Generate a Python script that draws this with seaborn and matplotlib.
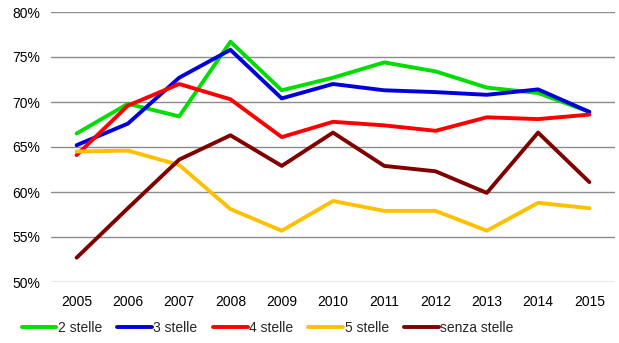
import matplotlib
matplotlib.use("Agg")
import matplotlib.pyplot as plt
import seaborn as sns
import pandas as pd
from matplotlib.ticker import FuncFormatter

years = ["2005", "2006", "2007", "2008", "2009", "2010", "2011", "2012", "2013", "2014", "2015"]
series_names = ["2 stelle", "3 stelle", "4 stelle", "5 stelle", "senza stelle"]
stelle_2 = [66.5, 69.8, 68.4, 76.7, 71.3, 72.7, 74.4, 73.4, 71.6, 71.0, 68.9]
stelle_3 = [65.2, 67.6, 72.7, 75.8, 70.4, 72.0, 71.3, 71.1, 70.8, 71.4, 68.9]
stelle_4 = [64.1, 69.6, 72.0, 70.3, 66.1, 67.8, 67.4, 66.8, 68.3, 68.1, 68.6]
stelle_5 = [64.5, 64.6, 63.0, 58.1, 55.7, 59.0, 57.9, 57.9, 55.7, 58.8, 58.2]
senza_stelle = [52.7, 58.2, 63.6, 66.3, 62.9, 66.6, 62.9, 62.3, 59.9, 66.6, 61.1]
colors = ["#00DD00", "#0000DD", "#FF0000", "#FFC000", "#800000"]

all_values = [stelle_2, stelle_3, stelle_4, stelle_5, senza_stelle]
rows = []
for name, vals in zip(series_names, all_values):
    for i, v in enumerate(vals):
        rows.append({"pos": i, "anno": years[i], "quota": v, "categoria": name})
df = pd.DataFrame(rows)

sns.set_theme(style="white")
plt.rcParams["font.family"] = ["Liberation Sans", "DejaVu Sans"]

fig = plt.figure(figsize=(6.19, 3.43), dpi=100)
ax = fig.add_axes([51 / 619, 1 - 282 / 343, (615 - 51) / 619, (282 - 12) / 343])

sns.lineplot(data=df, x="pos", y="quota", hue="categoria", hue_order=series_names,
             palette=colors, linewidth=2.8, ax=ax, legend=True)

ax.set_xlim(-0.5, len(years) - 0.5)
ax.set_ylim(50, 80)
ax.set_yticks(range(50, 81, 5))
ax.yaxis.set_major_formatter(FuncFormatter(lambda v, _: f"{v:.0f}%"))
ax.set_xticks(range(len(years)))
ax.set_xticklabels(years)
ax.grid(axis="y", color="#8c8c8c", linewidth=1.0)
ax.grid(axis="x", visible=False)
ax.set_axisbelow(True)
for s in ax.spines.values():
    s.set_visible(False)
ax.tick_params(axis="both", length=0, labelsize=10, colors="black")
ax.tick_params(axis="x", pad=9)
ax.tick_params(axis="y", pad=8)
ax.set_xlabel("")
ax.set_ylabel("")

handles, labels = ax.get_legend_handles_labels()
ax.legend(handles, labels, loc="center", bbox_to_anchor=(0.384, -0.17), ncol=5,
          frameon=False, fontsize=10, handlelength=2.5, handletextpad=0.1,
          columnspacing=1.1, borderaxespad=0)

fig.savefig("out.png", dpi=100)
